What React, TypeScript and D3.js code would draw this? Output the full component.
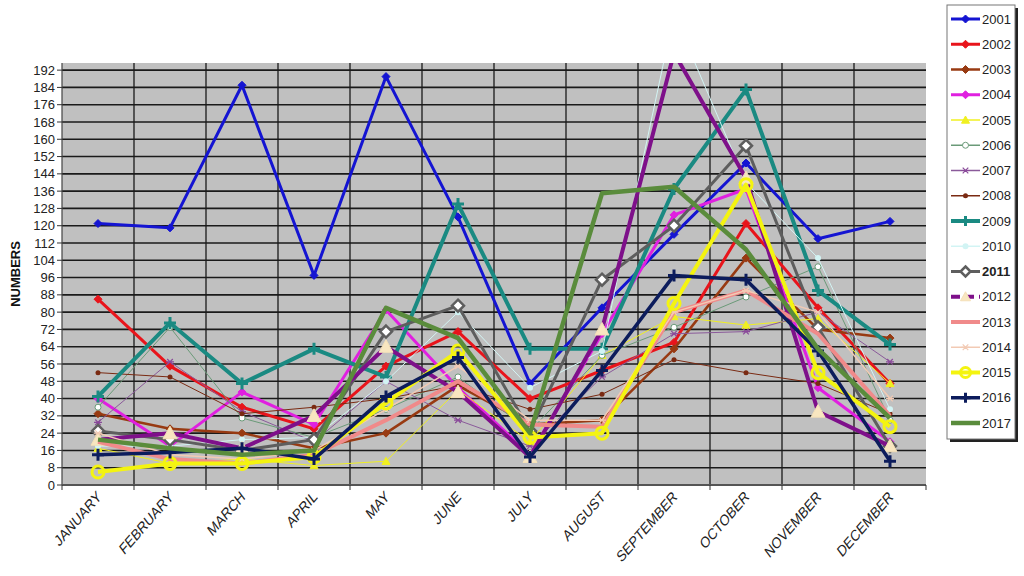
import React from "react";
import * as d3 from "d3";

const months = ["JANUARY","FEBRUARY","MARCH","APRIL","MAY","JUNE","JULY","AUGUST","SEPTEMBER","OCTOBER","NOVEMBER","DECEMBER"];
const yTicks = d3.range(0, 193, 8);

const s2001 = [121, 119, 185, 97, 189, 124, 47, 82, 116, 149, 114, 122];
const s2002 = [86, 55, 36, 26, 55, 71, 40, 53, 66, 121, 82, 47];
const s2003 = [33, 26, 24, 17, 24, 46, 28, 30, 63, 105, 72, 68];
const s2004 = [40, 18, 43, 28, 81, 45, 14, 70, 125, 137, 45, 20];
const s2005 = [17, 10, 12, 9, 11, 44, 20, 60, 78, 74, 77, 47];
const s2006 = [36, 73, 31, 22, 35, 50, 25, 60, 73, 87, 101, 30];
const s2007 = [29, 57, 34, 20, 48, 30, 18, 50, 70, 71, 80, 57];
const s2008 = [52, 50, 33, 36, 40, 46, 35, 42, 58, 52, 47, 33];
const s2009 = [41, 75, 47, 63, 50, 130, 63, 63, 137, 183, 90, 65];
const s2010 = [18, 18, 21, 22, 48, 80, 45, 62, 218, 140, 105, 35];
const s2011 = [25, 21, 16, 21, 71, 83, 25, 95, 120, 157, 73, 18];
const s2012 = [21, 24, 17, 32, 64, 43, 13, 72, 200, 142, 34, 18];
const s2013 = [20, 12, 10, 14, 30, 48, 28, 27, 80, 90, 70, 32];
const s2014 = [24, 14, 12, 16, 35, 55, 30, 30, 80, 90, 80, 40];
const s2015 = [6, 10, 10, 13, 38, 62, 22, 24, 84, 139, 52, 27];
const s2016 = [14, 15, 17, 12, 41, 59, 13, 53, 97, 95, 62, 11];
const s2017 = [21, 17, 14, 16, 82, 68, 24, 135, 138, 109, 63, 31];

const seriesNames = ["2001","2002","2003","2004","2005","2006","2007","2008","2009","2010","2011","2012","2013","2014","2015","2016","2017"];
const seriesValues = [s2001,s2002,s2003,s2004,s2005,s2006,s2007,s2008,s2009,s2010,s2011,s2012,s2013,s2014,s2015,s2016,s2017];

type Style = { color: string; width: number; marker: string; mColor: string; mFill: string; size: number; legendDash?: boolean };
const styles: Style[] = [
  { color: "#1414d2", width: 3, marker: "diamond", mColor: "#1414d2", mFill: "#1414d2", size: 4 },
  { color: "#e8141b", width: 3, marker: "diamond", mColor: "#e8141b", mFill: "#e8141b", size: 4 },
  { color: "#983a12", width: 2.5, marker: "diamond", mColor: "#983a12", mFill: "#983a12", size: 4 },
  { color: "#e020e0", width: 3, marker: "diamond", mColor: "#e020e0", mFill: "#e020e0", size: 4 },
  { color: "#f0f020", width: 1, marker: "triangle", mColor: "#f0f020", mFill: "#f0f020", size: 4 },
  { color: "#6a9a78", width: 1, marker: "circle", mColor: "#6a9a78", mFill: "#ffffff", size: 3 },
  { color: "#8a5a9a", width: 1, marker: "star", mColor: "#8a4a9a", mFill: "none", size: 4 },
  { color: "#7a2a12", width: 1, marker: "dot", mColor: "#7a2a12", mFill: "#7a2a12", size: 2.5 },
  { color: "#1a8a82", width: 4, marker: "plus", mColor: "#1a8a82", mFill: "none", size: 6 },
  { color: "#d2f4f4", width: 1, marker: "dot", mColor: "#d2f4f4", mFill: "#d2f4f4", size: 3 },
  { color: "#5e5e5e", width: 3, marker: "diamondOpen", mColor: "#5e5e5e", mFill: "#ffffff", size: 6 },
  { color: "#7e108a", width: 4, marker: "triangle", mColor: "#f4e0b8", mFill: "#f8e6c0", size: 7, legendDash: true },
  { color: "#f08a8a", width: 4, marker: "none", mColor: "#f08a8a", mFill: "#f08a8a", size: 3 },
  { color: "#f2cab4", width: 1.5, marker: "star", mColor: "#f2cab4", mFill: "none", size: 4 },
  { color: "#f4f410", width: 4, marker: "circle", mColor: "#f4f410", mFill: "none", size: 6 },
  { color: "#0c1c5c", width: 3.5, marker: "plus", mColor: "#0c1c5c", mFill: "none", size: 6 },
  { color: "#5a8c3c", width: 4.5, marker: "none", mColor: "#5a8c3c", mFill: "#5a8c3c", size: 3 },
];

const W = 1024, H = 576;
const left = 62, right = 926, top = 63, bottom = 485;

function Marker({ s, x, y }: { s: Style; x: number; y: number }) {
  const r = s.size;
  switch (s.marker) {
    case "diamond":
      return <path d={`M${x},${y - r}L${x + r},${y}L${x},${y + r}L${x - r},${y}Z`} fill={s.mFill} stroke={s.mColor} strokeWidth={1} />;
    case "diamondOpen":
      return <path d={`M${x},${y - r}L${x + r},${y}L${x},${y + r}L${x - r},${y}Z`} fill={s.mFill} stroke={s.mColor} strokeWidth={2.5} />;
    case "triangle":
      return <path d={`M${x},${y - r}L${x + r},${y + r * 0.8}L${x - r},${y + r * 0.8}Z`} fill={s.mFill} stroke={s.mColor} strokeWidth={1} />;
    case "circle":
      return <circle cx={x} cy={y} r={r} fill={s.mFill} stroke={s.mColor} strokeWidth={s.size > 4 ? 3 : 1} />;
    case "dot":
      return <circle cx={x} cy={y} r={r} fill={s.mFill} stroke="none" />;
    case "plus":
      return <path d={`M${x - r},${y}L${x + r},${y}M${x},${y - r}L${x},${y + r}`} stroke={s.mColor} strokeWidth={3} />;
    case "star":
      return <path d={`M${x - r},${y}L${x + r},${y}M${x - r * 0.7},${y - r * 0.7}L${x + r * 0.7},${y + r * 0.7}M${x - r * 0.7},${y + r * 0.7}L${x + r * 0.7},${y - r * 0.7}`} stroke={s.mColor} strokeWidth={1.2} />;
    default:
      return null;
  }
}

export default function App() {
  const x = d3.scaleBand<string>().domain(months).range([left, right]).padding(0);
  const y = d3.scaleLinear().domain([0, 195.3]).range([bottom, top]);
  const cx = (m: string) => (x(m) as number) + x.bandwidth() / 2;
  const line = d3.line<number>().x((_, i) => cx(months[i])).y((d) => y(d));
  const font = "Arial, 'Liberation Sans', sans-serif";
  const legendTop = 19, legendStep = 25.25;

  return (
    <svg width={W} height={H} style={{ position: "absolute", left: 0, top: 0, background: "#fff" }} fontFamily={font}>
      <defs>
        <clipPath id="plotclip">
          <rect x={left} y={top} width={right - left} height={bottom - top} />
        </clipPath>
      </defs>
      <rect x={left} y={top} width={right - left} height={bottom - top} fill="#c0c0c0" />
      {yTicks.filter((t) => t > 0).map((t) => (
        <line key={"h" + t} x1={left} x2={right} y1={y(t)} y2={y(t)} stroke="#1a1a1a" strokeWidth={1.6} />
      ))}
      {months.slice(1).map((m) => (
        <line key={"v" + m} x1={x(m) as number} x2={x(m) as number} y1={top} y2={bottom} stroke="#1a1a1a" strokeWidth={1.3} />
      ))}
      <line x1={left} x2={left} y1={top} y2={bottom} stroke="#444" strokeWidth={1.2} />
      <line x1={left} x2={right} y1={bottom} y2={bottom} stroke="#555" strokeWidth={2} />
      {yTicks.map((t) => (
        <g key={"yt" + t}>
          <line x1={left - 5} x2={left} y1={y(t)} y2={y(t)} stroke="#333" />
          <text x={left - 7} y={y(t)} dy="0.35em" textAnchor="end" fontSize={13} fill="#222">{t}</text>
        </g>
      ))}
      {months.map((m) => (
        <line key={"xt" + m} x1={x(m) as number} x2={x(m) as number} y1={bottom} y2={bottom + 5} stroke="#333" />
      ))}
      <line x1={right} x2={right} y1={bottom} y2={bottom + 5} stroke="#333" />
      {months.map((m) => (
        <text key={"xl" + m} transform={`translate(${cx(m) + 4},${bottom + 13}) rotate(-49) skewX(-12)`} textAnchor="end" fontSize={14} fill="#222">{m}</text>
      ))}
      <text transform={`translate(20,${(top + bottom) / 2}) rotate(-90)`} textAnchor="middle" fontSize={13} fontWeight="bold" fill="#111">NUMBERS</text>

      <g clipPath="url(#plotclip)">
        {seriesValues.map((vals, si) => {
          const s = styles[si];
          return (
            <g key={"s" + si}>
              <path d={line(vals) as string} fill="none" stroke={s.color} strokeWidth={s.width} strokeLinejoin="round" />
              {vals.map((v, i) => (
                <Marker key={i} s={s} x={cx(months[i])} y={y(v)} />
              ))}
            </g>
          );
        })}
      </g>

      <rect x={950} y={8} width={68} height={434} fill="#222" />
      <rect x={947} y={5} width={68} height={434} fill="#fff" stroke="#777" strokeWidth={1} />
      {seriesNames.map((n, i) => {
        const s = styles[i];
        const ly = legendTop + i * legendStep;
        return (
          <g key={"lg" + n}>
            <line x1={951} x2={980} y1={ly} y2={ly} stroke={s.color} strokeWidth={Math.max(s.width, 1.5)} strokeDasharray={s.legendDash ? "9,5" : undefined} />
            <Marker s={{ ...s, size: Math.min(s.size, 5) }} x={965.5} y={ly} />
            <text x={982} y={ly} dy="0.35em" fontSize={13} fontWeight={n === "2011" ? "bold" : "normal"} fill="#222">{n}</text>
          </g>
        );
      })}
    </svg>
  );
}
